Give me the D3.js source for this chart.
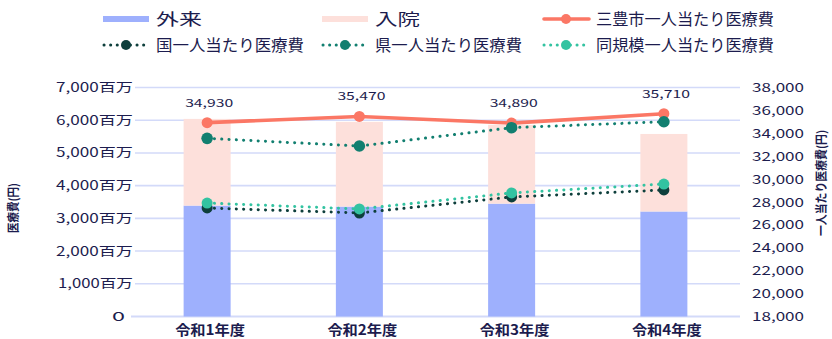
<!DOCTYPE html>
<html>
<head>
<meta charset="utf-8">
<script src="https://cdn.jsdelivr.net/npm/d3@7"></script>
<style>
  html, body { margin: 0; padding: 0; background: #ffffff; }
  svg { display: block; }
  text { font-family: "Noto Sans CJK JP", "Noto Sans", sans-serif; fill: #1c1c4e; }
</style>
</head>
<body>
<svg id="chart" width="832" height="339"></svg>
<script>
// Fiscal years
const categories = ["令和1年度", "令和2年度", "令和3年度", "令和4年度"];

// Medical expenses in millions of yen (stacked bars)
const outpatient = [3390, 3360, 3450, 3210];   // 外来
const inpatient  = [2650, 2590, 2410, 2370];   // 入院

// Per-capita medical expenses in yen (lines, right axis)
const cityCost     = [34930, 35470, 34890, 35710]; // 三豊市
const nationalCost = [27480, 27040, 28440, 29050]; // 国
const prefCost     = [33560, 32890, 34490, 35010]; // 県
const peerCost     = [27910, 27390, 28790, 29570]; // 同規模

// Axis ticks
const leftTicks  = [0, 1000, 2000, 3000, 4000, 5000, 6000, 7000];
const rightTicks = [18000, 20000, 22000, 24000, 26000, 28000, 30000, 32000, 34000, 36000, 38000];

const svg = d3.select("#chart");
const fmt = d3.format(",");

const x = d3.scaleBand().domain(categories).range([131, 740]);
const yL = d3.scaleLinear().domain([0, 7000]).range([316.5, 87.5]);
const yR = d3.scaleLinear().domain([18000, 38000]).range([316.5, 87.5]);
const cx = c => x(c) + x.bandwidth() / 2;
const barW = 47;

// Squeeze/stretch a text to a fixed drawn width
function fit(sel, w) {
  sel.attr("textLength", w).attr("lengthAdjust", "spacingAndGlyphs");
}

// Gridlines (left axis)
svg.append("g").selectAll("line").data(leftTicks).join("line")
  .attr("x1", d => d === 0 ? 131 : 135).attr("x2", 740)
  .attr("y1", d => yL(d)).attr("y2", d => yL(d))
  .attr("stroke", "#d3daf9").attr("stroke-width", d => d === 0 ? 2 : 1.6);

// Left tick labels
const lAxis = svg.append("g").selectAll("text").data(leftTicks).join("text")
  .attr("x", d => d === 0 ? 125 : 133)
  .attr("y", d => yL(d) + 4.5)
  .attr("text-anchor", "end")
  .attr("font-size", 12.5)
  .text(d => d === 0 ? "0" : fmt(d) + "百万");
lAxis.each(function(d) { d3.select(this).call(fit, d === 0 ? 13 : (d >= 1000 && d < 2000 ? 75 : 77)); });

// Right tick labels
svg.append("g").selectAll("text").data(rightTicks).join("text")
  .attr("x", 752)
  .attr("y", d => yR(d) + 4.5)
  .attr("font-size", 12)
  .text(d => fmt(d))
  .call(fit, 52);

// Axis titles
svg.append("text")
  .attr("transform", "translate(18,208) rotate(-90)")
  .attr("text-anchor", "middle").attr("font-size", 12).attr("font-weight", 700)
  .text("医療費(円)").call(fit, 50);
svg.append("text")
  .attr("transform", "translate(826,183) rotate(-90)")
  .attr("text-anchor", "middle").attr("font-size", 12).attr("font-weight", 700)
  .text("一人当たり医療費(円)").call(fit, 106);

// Stacked bars
const gBars = svg.append("g");
gBars.selectAll("rect.out").data(categories).join("rect")
  .attr("class", "out")
  .attr("x", d => cx(d) - barW / 2).attr("width", barW)
  .attr("y", (d, i) => yL(outpatient[i]))
  .attr("height", (d, i) => yL(0) - yL(outpatient[i]))
  .attr("fill", "#9eb0fd");
gBars.selectAll("rect.inp").data(categories).join("rect")
  .attr("class", "inp")
  .attr("x", d => cx(d) - barW / 2).attr("width", barW)
  .attr("y", (d, i) => yL(outpatient[i] + inpatient[i]))
  .attr("height", (d, i) => yL(outpatient[i]) - yL(outpatient[i] + inpatient[i]))
  .attr("fill", "#fde0db");

// Line series
function drawSeries(values, color, dotted, r) {
  const pts = values.map((v, i) => [cx(categories[i]), yR(v)]);
  const path = svg.append("path")
    .attr("d", d3.line()(pts))
    .attr("fill", "none")
    .attr("stroke", color)
    .attr("stroke-linecap", "round");
  if (dotted) {
    path.attr("stroke-width", 3).attr("stroke-dasharray", "0.1 7.2");
  } else {
    path.attr("stroke-width", 3.6);
  }
  svg.append("g").selectAll("circle").data(pts).join("circle")
    .attr("cx", d => d[0]).attr("cy", d => d[1]).attr("r", r)
    .attr("fill", color);
}

drawSeries(cityCost, "#fb7765", false, 5.5);
drawSeries(nationalCost, "#0e3f3c", true, 5.5);
drawSeries(prefCost, "#127f70", true, 5.8);
drawSeries(peerCost, "#33c3a1", true, 5.5);

// Value labels for the city line
svg.append("g").selectAll("text").data(cityCost).join("text")
  .attr("x", (d, i) => cx(categories[i]) + 2)
  .attr("y", d => yR(d) - 16)
  .attr("text-anchor", "middle")
  .attr("font-size", 11)
  .text(d => fmt(d))
  .call(fit, 48);

// X labels
svg.append("g").selectAll("text").data(categories).join("text")
  .attr("x", d => cx(d) + 3)
  .attr("y", 335)
  .attr("text-anchor", "middle")
  .attr("font-size", 14)
  .attr("font-weight", 700)
  .text(d => d)
  .call(fit, 70);

// Legend
const legend = [
  { label: "外来", type: "rect", color: "#9eb0fd", x: 103, y: 19, w: 46 },
  { label: "入院", type: "rect", color: "#fde0db", x: 322, y: 19, w: 45 },
  { label: "三豊市一人当たり医療費", type: "line", color: "#fb7765", x: 543, y: 19, w: 178 },
  { label: "国一人当たり医療費", type: "dots", color: "#0e3f3c", x: 103, y: 45, w: 148 },
  { label: "県一人当たり医療費", type: "dots", color: "#127f70", x: 322, y: 45, w: 147 },
  { label: "同規模一人当たり医療費", type: "dots", color: "#33c3a1", x: 543, y: 45, w: 178 }
];
const lg = svg.append("g").selectAll("g").data(legend).join("g")
  .attr("transform", d => `translate(${d.x},${d.y})`);
lg.filter(d => d.type === "rect").append("rect")
  .attr("x", 0).attr("y", -3).attr("width", 46).attr("height", 6)
  .attr("fill", d => d.color);
lg.filter(d => d.type !== "rect").append("line")
  .attr("x1", 1).attr("x2", 46).attr("y1", 0).attr("y2", 0)
  .attr("stroke", d => d.color)
  .attr("stroke-linecap", "round")
  .attr("stroke-width", d => d.type === "line" ? 3.6 : 3)
  .attr("stroke-dasharray", d => d.type === "line" ? null : "0.1 6.5");
lg.filter(d => d.type !== "rect").append("circle")
  .attr("cx", 23).attr("cy", 0).attr("r", 5).attr("fill", d => d.color);
lg.append("text")
  .attr("x", 53).attr("y", 6)
  .attr("font-size", 16)
  .text(d => d.label)
  .each(function(d) { d3.select(this).call(fit, d.w); });
</script>
</body>
</html>
